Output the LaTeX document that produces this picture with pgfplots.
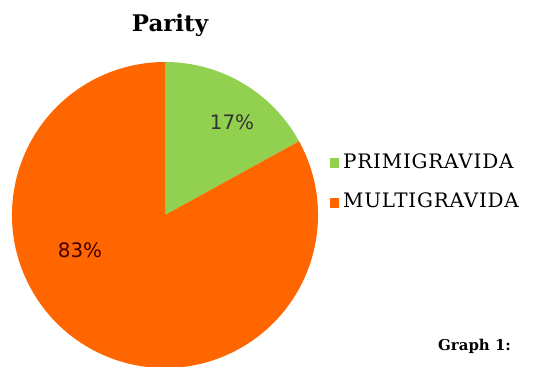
\documentclass[border=0pt]{standalone}
\usepackage{pgfplots}
\pgfplotsset{compat=1.18}
\usepackage{fontspec}
\setmainfont{DejaVu Serif}
\newfontfamily\lblfont{DejaVu Sans}
\newfontfamily\legfont[LetterSpace=4]{DejaVu Serif}
\definecolor{cgreen}{RGB}{146,208,80}
\definecolor{corange}{RGB}{255,102,0}
\begin{document}
\begin{tikzpicture}
\def\pa{17}
\def\pb{83}
\begin{axis}[
  scale only axis, width=535bp, height=367bp,
  xmin=0, xmax=535, ymin=0, ymax=367,
  hide axis, clip=true,
]
\path (axis cs:0,0) rectangle (axis cs:535,367);
% pie: center (165,152), radius 153 (axis units = bp)
\pgfmathsetmacro{\aend}{90-\pa*3.6}
\fill[cgreen] (axis cs:165,152) -- ++(90:153bp) arc[start angle=90, end angle=\aend, radius=153bp] -- cycle;
\fill[corange] (axis cs:165,152) -- ++(\aend:153bp) arc[start angle=\aend, end angle=-270, radius=153bp] -- cycle;
\node[font=\bfseries\fontsize{23}{27}\selectfont] at (axis cs:170,342) {Parity};
\node[font=\lblfont\fontsize{20}{24}\selectfont, text=black!80] at (axis cs:232,245) {\pa\%};
\node[font=\lblfont\fontsize{20}{24}\selectfont, text=black!75!red] at (axis cs:80,117) {\pb\%};
\fill[cgreen] (axis cs:330,199) rectangle (axis cs:339,209);
\fill[corange] (axis cs:330,159) rectangle (axis cs:339,169);
\node[anchor=base west, font=\legfont\fontsize{20}{23}\selectfont, inner sep=0pt] at (axis cs:343,198) {PRIMIGRAVIDA};
\node[anchor=base west, font=\legfont\fontsize{20}{23}\selectfont, inner sep=0pt] at (axis cs:343,159) {MULTIGRAVIDA};
\node[anchor=base west, font=\bfseries\fontsize{15}{18}\selectfont, inner sep=0pt] at (axis cs:438,17) {Graph 1:};
\end{axis}
\end{tikzpicture}
\end{document}
